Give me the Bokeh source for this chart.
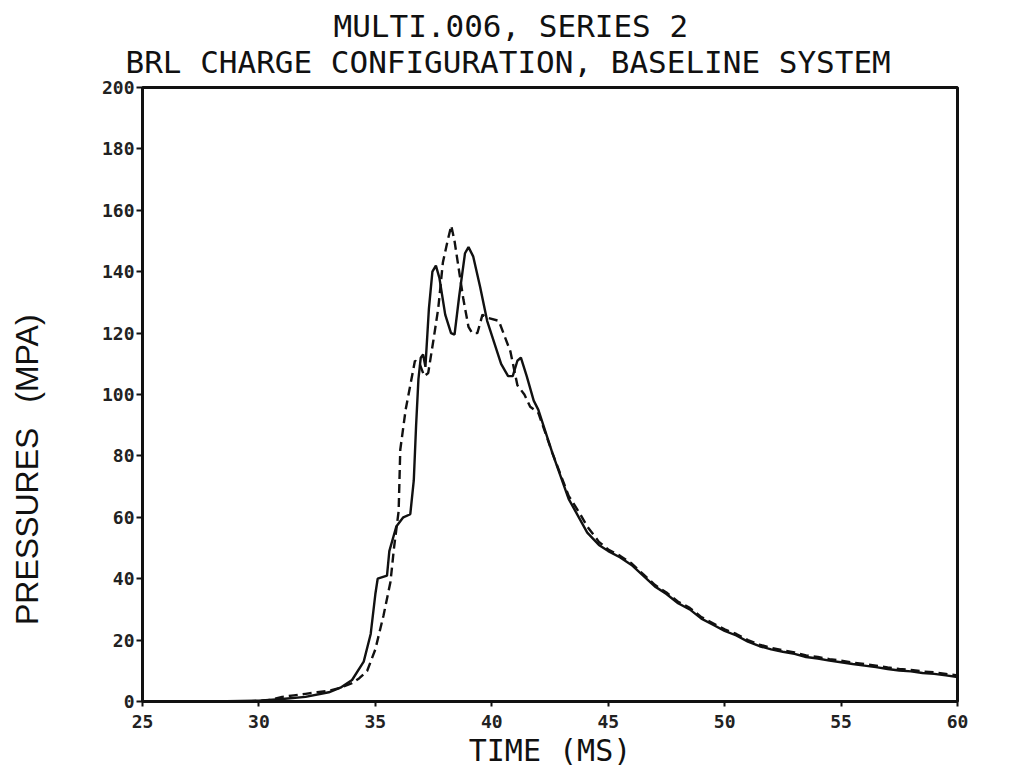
from bokeh.plotting import figure
from bokeh.models import Title, FixedTicker, Range1d
from bokeh.embed import file_html
from bokeh.resources import INLINE

# ---------------- data ----------------
title_line1 = "MULTI.006, SERIES 2"
title_line2 = "BRL CHARGE CONFIGURATION, BASELINE SYSTEM"
x_label = "TIME (MS)"
y_label = "PRESSURES\u2002 (MPA)"

x_ticks = [25, 30, 35, 40, 45, 50, 55, 60]
y_ticks = [0, 20, 40, 60, 80, 100, 120, 140, 160, 180, 200]

solid_time = [25.0, 28.0, 30.0, 31.0, 32.0, 33.0, 33.5, 34.0, 34.5, 34.8, 35.0, 35.1,
              35.5, 35.6, 35.9, 36.2, 36.5, 36.65, 36.75, 36.85, 36.95, 37.05, 37.15,
              37.3, 37.45, 37.6, 37.75, 38.0, 38.25, 38.4, 38.6, 38.85, 39.0, 39.2,
              39.5, 39.8, 40.1, 40.4, 40.7, 40.9, 41.1, 41.25, 41.5, 41.8, 42.0,
              42.6, 43.3, 44.1, 44.6, 45.0, 45.5, 46.0, 46.5, 47.0, 47.5, 48.0, 48.5,
              49.0, 49.5, 50.0, 50.5, 51.0, 51.5, 52.0, 52.5, 53.0, 53.5, 54.0, 54.5,
              55.0, 55.5, 56.0, 56.5, 57.0, 57.5, 58.0, 58.5, 59.0, 59.5, 60.0]
solid_pressure = [0.0, 0.0, 0.3, 0.8, 1.5, 3.0, 4.5, 7.0, 13.0, 22.0, 35.0, 40.0,
                  41.0, 49.0, 57.0, 60.0, 61.0, 72.0, 90.0, 105.0, 112.0, 113.0, 109.0,
                  128.0, 140.0, 142.0, 138.0, 126.0, 120.0, 119.5, 132.0, 146.0, 148.0, 145.0,
                  135.0, 124.0, 117.0, 110.0, 106.0, 106.0, 111.0, 112.0, 106.0, 98.0, 95.0,
                  81.0, 66.0, 55.0, 51.0, 49.0, 47.0, 44.5, 41.0, 37.5, 35.0, 32.0, 30.0,
                  27.0, 25.0, 23.0, 21.5, 19.5, 18.0, 17.0, 16.2, 15.5, 14.5, 14.0, 13.3,
                  12.8, 12.2, 11.7, 11.2, 10.6, 10.1, 9.8, 9.3, 9.0, 8.5, 8.0]

dashed_time = [29.5, 30.5, 31.0, 31.5, 32.0, 32.5, 33.0, 33.5, 34.0, 34.3, 34.65, 35.0,
               35.35, 35.65, 35.8, 36.0, 36.07, 36.3, 36.5, 36.7, 36.9, 37.1, 37.27,
               37.5, 37.7, 37.9, 38.1, 38.26, 38.4, 38.5, 38.78, 39.0, 39.16, 39.38,
               39.6, 39.8, 40.3, 40.5, 40.8, 41.1, 41.4, 41.65, 42.0, 42.6, 43.3, 43.8,
               44.1, 44.6, 45.0, 45.5, 46.0, 46.5, 47.0, 47.5, 48.0, 48.5, 49.0, 49.5,
               50.0, 50.5, 51.0, 51.5, 52.0, 52.5, 53.0, 53.5, 54.0, 54.5, 55.0, 55.5,
               56.0, 56.5, 57.0, 57.5, 58.0, 58.5, 59.0, 59.5, 60.0]
dashed_pressure = [0.0, 0.5, 1.5, 2.0, 2.5, 3.0, 3.5, 4.5, 6.0, 7.5, 10.0, 17.0,
                   28.0, 39.0, 50.0, 62.0, 82.0, 95.0, 103.0, 111.0, 110.0, 106.0, 107.0,
                   118.0, 128.0, 143.0, 150.0, 155.0, 150.0, 145.0, 131.0, 122.0, 120.0, 120.0,
                   126.0, 125.0, 124.0, 120.0, 114.0, 103.0, 100.0, 96.0, 94.0, 81.0, 67.0, 61.0,
                   57.0, 52.0, 49.5, 47.5, 45.0, 41.5, 38.0, 35.5, 32.5, 30.5, 27.5, 25.5,
                   23.5, 22.0, 20.0, 18.5, 17.5, 16.7, 16.0, 15.0, 14.5, 13.8,
                   13.3, 12.7, 12.2, 11.7, 11.1, 10.6, 10.3, 9.8, 9.5, 9.0, 8.5]

# ---------------- figure ----------------
MONO = "DejaVu Sans Mono"
INK = "#111111"

p = figure(width=994, height=770, output_backend="svg", toolbar_location=None,
           x_range=Range1d(25, 60), y_range=Range1d(0, 200),
           min_border_left=142, min_border_right=37, min_border_top=87, min_border_bottom=67)

p.background_fill_color = "white"
p.border_fill_color = "white"
p.outline_line_color = INK
p.outline_line_width = 3
p.grid.visible = False

p.line(solid_time, solid_pressure, line_color=INK, line_width=2.4)
p.line(dashed_time, dashed_pressure, line_color=INK, line_width=2.4, line_dash="9 5")

for ax in (p.xaxis[0], p.yaxis[0]):
    ax.axis_line_color = INK
    ax.axis_line_width = 3
    ax.major_tick_line_color = INK
    ax.major_tick_line_width = 2
    ax.minor_tick_line_color = None
    ax.major_tick_in = 0
    ax.major_label_text_font = MONO
    ax.major_label_text_font_size = "18px"
    ax.major_label_text_font_style = "bold"
    ax.major_label_text_color = "#222222"

p.xaxis.ticker = FixedTicker(ticks=x_ticks)
p.yaxis.ticker = FixedTicker(ticks=y_ticks)
p.xaxis.major_tick_out = 5
p.yaxis.major_tick_out = 6
p.xaxis.major_label_standoff = 8
p.yaxis.major_label_standoff = 2

p.xaxis.axis_label = x_label
p.xaxis.axis_label_text_font = MONO
p.xaxis.axis_label_text_font_size = "30px"
p.xaxis.axis_label_text_font_style = "normal"
p.xaxis.axis_label_text_color = INK
p.xaxis.axis_label_standoff = 2

# vertical axis title; trailing blank space moves the visible words below centre
p.yaxis.axis_label = y_label + "\u2003\u2003\u2003\u2003\u2002\u2009"
p.yaxis.axis_label_text_font = "Liberation Sans"
p.yaxis.axis_label_text_font_size = "32px"
p.yaxis.axis_label_text_font_style = "normal"
p.yaxis.axis_label_text_color = INK
p.yaxis.axis_label_standoff = 54

# two-line heading: the figure's own title is the outer (upper) line
p.title.text = title_line1
p.title.align = "left"
p.title.offset = 191
p.title.standoff = -21
p.title.text_font = MONO
p.title.text_font_size = "31px"
p.title.text_font_style = "normal"
p.title.text_color = INK

p.add_layout(Title(text=title_line2, align="left", offset=-17, standoff=16,
                   text_font=MONO, text_font_size="31px", text_font_style="normal",
                   text_color=INK), "above")

open("out.html", "w").write(file_html(p, INLINE))
